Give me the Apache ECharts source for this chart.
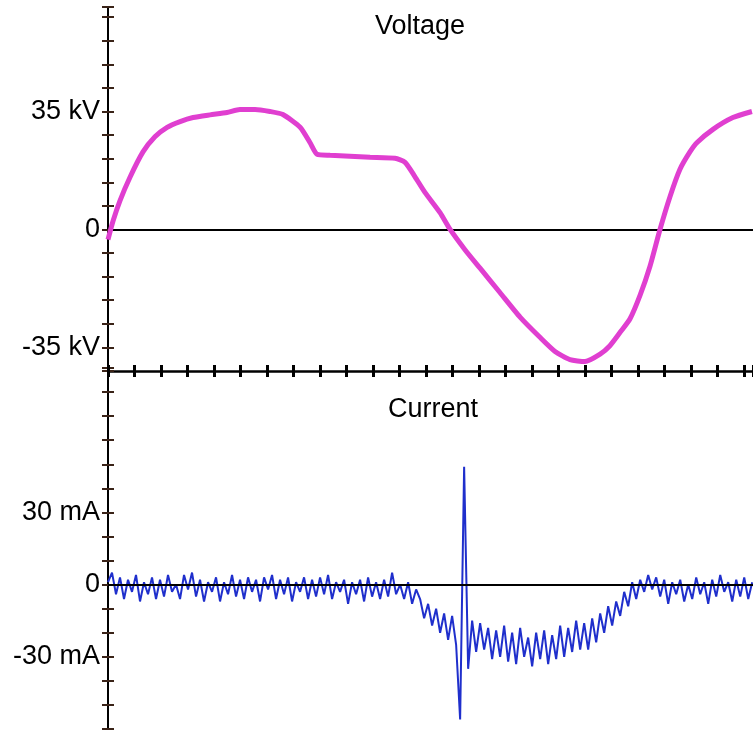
<!DOCTYPE html>
<html>
<head>
<meta charset="utf-8">
<script src="https://cdn.jsdelivr.net/npm/echarts@6/dist/echarts.min.js"></script>
<style>
  html, body {margin: 0; padding: 0; background: #fff;}
  #chart {width: 753px; height: 733px;}
</style>
</head>
<body>
<div id="chart"></div>
<script>
// time is in scope divisions (one tick on the bottom axis)
const voltageTime = [
  0, 0.19, 0.45, 0.83, 1.32, 1.77, 2.23, 2.72, 3.21,
  3.85, 4.49, 4.98, 5.55, 6.11, 6.60, 7.25, 7.62, 7.89, 8.38,
  9.13, 9.89, 10.83, 11.21, 11.58, 11.96, 12.53, 12.91, 13.47, 14.04,
  14.79, 15.55, 16.30, 16.87, 17.43, 18.00, 18.57, 18.94, 19.32, 19.70,
  20.08, 20.45, 20.83, 21.21, 21.58, 21.96, 22.23, 22.83, 23.58, 24.30
];
const voltageKv = [
  -3, 2.5, 8.5, 15.5, 23, 27.5, 30.3, 32, 33.2,
  34, 34.7, 35.6, 35.6, 35, 34.1, 30.3, 25.8, 22.3, 22,
  21.7, 21.4, 21.1, 19.9, 15.7, 11, 5, 0, -6, -11.5,
  -18.7, -26, -32, -36.2, -38.6, -39.2, -37, -34.5, -30.6, -26.5,
  -19.5, -11, 0, 9.8, 17.8, 23, 25.8, 29.7, 33.2, 35
];

// current samples, one every currentStep divisions
const currentStep = 0.151;
const currentMa = [
  1, 5, -4, 3, -6, 2, -3, 4, -7, 1,
  -4, 3, -6, 2, -5, 4, -3, 0, -6, 4,
  -2, 5, -5, 2, -7, 1, -3, 3, -7, 1,
  -4, 4, -5, 2, -6, 3, -3, 2, -7, 3,
  -2, 4, -6, 2, -4, 3, -7, 1, -3, 3,
  -6, 2, -5, 3, -4, 4, -6, 1, -3, 2,
  -8, 1, -4, 2, -7, 3, -5, 1, -6, 2,
  -5, 5, -4, 0, -6, 1, -8, -2, -6, -14,
  -8, -17, -10, -20, -12, -23, -13, -25, -56, 49,
  -35, -15, -28, -16, -27, -18, -31, -19, -30, -17,
  -32, -20, -33, -18, -30, -22, -34, -20, -31, -19,
  -33, -21, -31, -17, -30, -18, -28, -15, -27, -16,
  -27, -14, -24, -12, -20, -9, -17, -7, -13, -3,
  -9, 1, -6, 2, -3, 4, -2, 3, -5, 2,
  -8, 1, -4, 2, -7, 0, -6, 3, -4, 1,
  -8, 2, -5, 4, -3, 1, -7, 2, -5, 3,
  -6, 1
];

const timeMax = 24.34;
const voltageTicks = [35, 0, -35];
const voltageTickLabels = ['35 kV', '0', '-35 kV'];
const currentTicks = [30, 0, -30];
const currentTickLabels = ['30 mA', '0', '-30 mA'];

const font = 'Liberation Sans, Arial, Helvetica, sans-serif';
const tickColor = '#3a2318';

function labelFor(ticks, labels) {
  return v => {
    const i = ticks.indexOf(v);
    return i < 0 ? '' : labels[i];
  };
}

function leftAxis(gridIndex, min, max, interval, ticks, labels) {
  return [{
    gridIndex, type: 'value', position: 'left', min, max, interval,
    axisLine: {show: true, onZero: false, lineStyle: {color: '#000', width: 2}},
    axisTick: {show: true, length: 6, lineStyle: {color: tickColor, width: 2}},
    axisLabel: {
      formatter: labelFor(ticks, labels), color: '#000', fontSize: 27,
      fontFamily: font, margin: 8
    },
    splitLine: {show: false}
  }, {
    gridIndex, type: 'value', position: 'left', min, max, interval,
    axisLine: {show: false},
    axisTick: {show: true, inside: true, length: 6, lineStyle: {color: tickColor, width: 2}},
    axisLabel: {show: false},
    splitLine: {show: false}
  }];
}

const zeroLine = {
  silent: true,
  symbol: 'none',
  label: {show: false},
  lineStyle: {color: '#000', width: 2, type: 'solid'},
  data: [{yAxis: 0}]
};

const chart = echarts.init(document.getElementById('chart'));
chart.setOption({
  animation: false,
  backgroundColor: '#fff',
  grid: [
    {left: 108, right: 0, top: 7, height: 364},
    {left: 108, right: 0, top: 368, height: 361}
  ],
  graphic: [
    {type: 'text', x: 420, y: 27, style: {text: 'Voltage', font: '27px ' + font, fill: '#000', textAlign: 'center', textVerticalAlign: 'middle'}},
    {type: 'text', x: 433, y: 410, style: {text: 'Current', font: '27px ' + font, fill: '#000', textAlign: 'center', textVerticalAlign: 'middle'}}
  ],
  xAxis: [{
    gridIndex: 0, type: 'value', position: 'bottom', min: 0, max: timeMax, interval: 1,
    axisLine: {onZero: false, lineStyle: {color: '#000', width: 2.5}},
    axisTick: {length: 6, lineStyle: {color: '#000', width: 3}},
    axisLabel: {show: false},
    splitLine: {show: false}
  }, {
    gridIndex: 0, type: 'value', position: 'bottom', min: 0, max: timeMax, interval: 1,
    axisLine: {show: false, onZero: false},
    axisTick: {inside: true, length: 6, lineStyle: {color: '#000', width: 3}},
    axisLabel: {show: false},
    splitLine: {show: false}
  }, {
    gridIndex: 1, type: 'value', min: 0, max: timeMax, show: false
  }],
  yAxis: [
    ...leftAxis(0, -42, 66, 7, voltageTicks, voltageTickLabels),
    ...leftAxis(1, -60, 90, 10, currentTicks, currentTickLabels)
  ],
  series: [{
    name: 'Voltage',
    type: 'line',
    xAxisIndex: 0,
    yAxisIndex: 0,
    data: voltageTime.map((t, i) => [t, voltageKv[i]]),
    showSymbol: false,
    smooth: 0.2,
    z: 10,
    lineStyle: {color: '#e03fd0', width: 5},
    markLine: zeroLine
  }, {
    name: 'Current',
    type: 'line',
    xAxisIndex: 2,
    yAxisIndex: 2,
    data: currentMa.map((v, i) => [i * currentStep, v]),
    showSymbol: false,
    lineStyle: {color: '#1f2fcc', width: 2},
    markLine: zeroLine
  }]
});
</script>
</body>
</html>
